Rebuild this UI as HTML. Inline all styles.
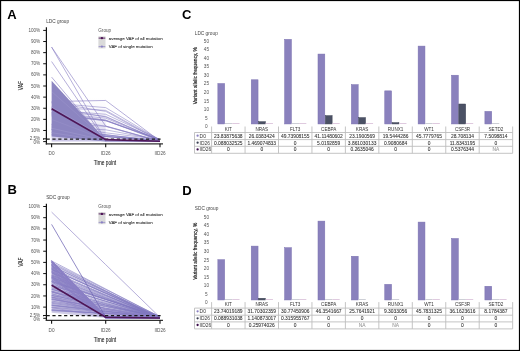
<!DOCTYPE html><html><head><meta charset="utf-8"><style>html,body{margin:0;padding:0;background:#fff;}svg{display:block;will-change:transform;}</style></head><body>
<svg width="520" height="351" viewBox="0 0 520 351" font-family='"Liberation Sans", sans-serif'>
<defs><linearGradient id="gA" x1="0" y1="0" x2="0" y2="1"><stop offset="0" stop-color="#a79fd6" stop-opacity="0"/><stop offset="0.5" stop-color="#a79fd6" stop-opacity="0.1"/><stop offset="1" stop-color="#a79fd6" stop-opacity="0.6"/></linearGradient></defs>
<rect width="520" height="351" fill="#fff"/>
<text x="7.3" y="18.8" font-size="13" font-weight="bold" fill="#000">A</text>
<text x="7.6" y="194.3" font-size="13" font-weight="bold" fill="#000">B</text>
<text x="182" y="18.9" font-size="13" font-weight="bold" fill="#000">C</text>
<text x="182.3" y="194.8" font-size="13" font-weight="bold" fill="#000">D</text>
<polygon points="51.60,97.12 105.70,97.12 105.70,141.60 51.60,141.60" fill="url(#gA)"/>
<polyline fill="none" points="51.6,127.02 105.7,129.81 160.0,140.15" stroke="#8077bf" stroke-width="0.6" stroke-opacity="0.85"/>
<polyline fill="none" points="51.6,129.18 105.7,136.25 160.0,140.79" stroke="#8077bf" stroke-width="0.6" stroke-opacity="0.85"/>
<polyline fill="none" points="51.6,129.74 105.7,136.49 160.0,141.52" stroke="#8077bf" stroke-width="0.6" stroke-opacity="0.85"/>
<polyline fill="none" points="51.6,124.22 105.7,126.11 160.0,141.40" stroke="#8077bf" stroke-width="0.6" stroke-opacity="0.85"/>
<polyline fill="none" points="51.6,116.12 105.7,126.43 160.0,141.32" stroke="#8077bf" stroke-width="0.6" stroke-opacity="0.85"/>
<polyline fill="none" points="51.6,124.70 105.7,132.79 160.0,139.49" stroke="#8077bf" stroke-width="0.6" stroke-opacity="0.85"/>
<polyline fill="none" points="51.6,115.15 105.7,120.67 160.0,139.43" stroke="#8077bf" stroke-width="0.6" stroke-opacity="0.85"/>
<polyline fill="none" points="51.6,126.01 105.7,136.67 160.0,140.96" stroke="#8077bf" stroke-width="0.6" stroke-opacity="0.85"/>
<polyline fill="none" points="51.6,132.36 105.7,134.79 160.0,140.91" stroke="#8077bf" stroke-width="0.6" stroke-opacity="0.85"/>
<polyline fill="none" points="51.6,107.26 105.7,110.38 160.0,140.31" stroke="#8077bf" stroke-width="0.6" stroke-opacity="0.85"/>
<polyline fill="none" points="51.6,112.89 105.7,118.15 160.0,140.38" stroke="#8077bf" stroke-width="0.6" stroke-opacity="0.85"/>
<polyline fill="none" points="51.6,134.64 105.7,136.41 160.0,141.14" stroke="#8077bf" stroke-width="0.6" stroke-opacity="0.85"/>
<polyline fill="none" points="51.6,110.53 105.7,116.40 160.0,140.90" stroke="#8077bf" stroke-width="0.6" stroke-opacity="0.85"/>
<polyline fill="none" points="51.6,114.18 105.7,120.33 160.0,140.93" stroke="#8077bf" stroke-width="0.6" stroke-opacity="0.85"/>
<polyline fill="none" points="51.6,102.49 105.7,111.37 160.0,141.06" stroke="#8077bf" stroke-width="0.6" stroke-opacity="0.85"/>
<polyline fill="none" points="51.6,113.82 105.7,120.78 160.0,139.65" stroke="#8077bf" stroke-width="0.6" stroke-opacity="0.85"/>
<polyline fill="none" points="51.6,109.96 105.7,114.27 160.0,139.42" stroke="#8077bf" stroke-width="0.6" stroke-opacity="0.85"/>
<polyline fill="none" points="51.6,129.60 105.7,135.36 160.0,139.92" stroke="#8077bf" stroke-width="0.6" stroke-opacity="0.85"/>
<polyline fill="none" points="51.6,128.06 105.7,134.61 160.0,141.51" stroke="#8077bf" stroke-width="0.6" stroke-opacity="0.85"/>
<polyline fill="none" points="51.6,107.30 105.7,116.92 160.0,140.33" stroke="#8077bf" stroke-width="0.6" stroke-opacity="0.85"/>
<polyline fill="none" points="51.6,103.01 105.7,107.61 160.0,140.05" stroke="#8077bf" stroke-width="0.6" stroke-opacity="0.85"/>
<polyline fill="none" points="51.6,112.42 105.7,119.98 160.0,140.59" stroke="#8077bf" stroke-width="0.6" stroke-opacity="0.85"/>
<polyline fill="none" points="51.6,101.57 105.7,100.46 160.0,141.04" stroke="#8a80c4" stroke-width="0.7" stroke-opacity="0.9"/>
<polygon points="51.60,80.77 51.60,136.60 105.70,141.60 105.70,139.93" fill="#8c85c1" fill-opacity="1.0"/>
<polyline fill="none" points="51.6,107.13 105.7,138.26 160.0,141.04" stroke="#c4bde6" stroke-width="0.5" stroke-opacity="0.5"/>
<polyline fill="none" points="51.6,128.26 105.7,140.49 160.0,141.04" stroke="#c4bde6" stroke-width="0.5" stroke-opacity="0.4"/>
<polyline fill="none" points="51.6,132.70 105.7,141.04 160.0,141.04" stroke="#c4bde6" stroke-width="0.5" stroke-opacity="0.35"/>
<polyline fill="none" points="51.6,91.56 105.7,139.38 160.0,141.04" stroke="#c4bde6" stroke-width="0.4" stroke-opacity="0.35"/>
<polyline fill="none" points="51.6,119.36 105.7,139.93 160.0,141.04" stroke="#c4bde6" stroke-width="0.4" stroke-opacity="0.3"/>
<polyline fill="none" points="51.6,47.08 105.7,126.03 160.0,141.04" stroke="#8a80c4" stroke-width="0.7" stroke-opacity="0.9"/>
<polyline fill="none" points="51.6,47.08 105.7,140.49 160.0,141.04" stroke="#8a80c4" stroke-width="0.7" stroke-opacity="0.9"/>
<polyline fill="none" points="51.6,61.54 105.7,140.82 160.0,141.27" stroke="#8a80c4" stroke-width="0.7" stroke-opacity="0.9"/>
<polyline fill="none" points="51.6,77.10 105.7,141.60 160.0,141.60" stroke="#8a80c4" stroke-width="0.7" stroke-opacity="0.9"/>
<line x1="43" y1="139.02" x2="160.6" y2="139.02" stroke="#1a1a1a" stroke-width="1.25" stroke-dasharray="3.2 2.65" stroke-dashoffset="2.3"/>
<polyline points="51.6,108.80 105.7,139.60 160.0,141.27" fill="none" stroke="#4e1657" stroke-width="1.6"/>
<line x1="46.4" y1="27.2" x2="46.4" y2="144.4" stroke="#111" stroke-width="1.2"/>
<line x1="45.8" y1="143.8" x2="163" y2="143.8" stroke="#333" stroke-width="1.3"/>
<line x1="43.2" y1="141.60" x2="46.4" y2="141.60" stroke="#111" stroke-width="1"/>
<text x="40.2" y="144.10" text-anchor="end" font-size="4.6" fill="#555">0%</text>
<line x1="43.2" y1="138.82" x2="46.4" y2="138.82" stroke="#111" stroke-width="1"/>
<text x="40.2" y="139.82" text-anchor="end" font-size="4.6" fill="#555">2.5%</text>
<line x1="43.2" y1="130.48" x2="46.4" y2="130.48" stroke="#111" stroke-width="1"/>
<text x="40.2" y="132.08" text-anchor="end" font-size="4.6" fill="#555">10%</text>
<line x1="43.2" y1="119.36" x2="46.4" y2="119.36" stroke="#111" stroke-width="1"/>
<text x="40.2" y="120.96" text-anchor="end" font-size="4.6" fill="#555">20%</text>
<line x1="43.2" y1="108.24" x2="46.4" y2="108.24" stroke="#111" stroke-width="1"/>
<text x="40.2" y="109.84" text-anchor="end" font-size="4.6" fill="#555">30%</text>
<line x1="43.2" y1="97.12" x2="46.4" y2="97.12" stroke="#111" stroke-width="1"/>
<text x="40.2" y="98.72" text-anchor="end" font-size="4.6" fill="#555">40%</text>
<line x1="43.2" y1="86.00" x2="46.4" y2="86.00" stroke="#111" stroke-width="1"/>
<text x="40.2" y="87.60" text-anchor="end" font-size="4.6" fill="#555">50%</text>
<line x1="43.2" y1="74.88" x2="46.4" y2="74.88" stroke="#111" stroke-width="1"/>
<text x="40.2" y="76.48" text-anchor="end" font-size="4.6" fill="#555">60%</text>
<line x1="43.2" y1="63.76" x2="46.4" y2="63.76" stroke="#111" stroke-width="1"/>
<text x="40.2" y="65.36" text-anchor="end" font-size="4.6" fill="#555">70%</text>
<line x1="43.2" y1="52.64" x2="46.4" y2="52.64" stroke="#111" stroke-width="1"/>
<text x="40.2" y="54.24" text-anchor="end" font-size="4.6" fill="#555">80%</text>
<line x1="43.2" y1="41.52" x2="46.4" y2="41.52" stroke="#111" stroke-width="1"/>
<text x="40.2" y="43.12" text-anchor="end" font-size="4.6" fill="#555">90%</text>
<line x1="43.2" y1="30.40" x2="46.4" y2="30.40" stroke="#111" stroke-width="1"/>
<text x="40.2" y="32.00" text-anchor="end" font-size="4.6" fill="#555">100%</text>
<line x1="51.6" y1="143.8" x2="51.6" y2="147.2" stroke="#111" stroke-width="1.1"/>
<text x="51.6" y="155.0" text-anchor="middle" font-size="4.7" fill="#555">D0</text>
<line x1="105.7" y1="143.8" x2="105.7" y2="147.2" stroke="#111" stroke-width="1.1"/>
<text x="105.7" y="155.0" text-anchor="middle" font-size="4.7" fill="#555">ID26</text>
<line x1="160.0" y1="143.8" x2="160.0" y2="147.2" stroke="#111" stroke-width="1.1"/>
<text x="160.0" y="155.0" text-anchor="middle" font-size="4.7" fill="#555">IID26</text>
<text transform="translate(105,165.4) scale(0.69,1)" text-anchor="middle" font-size="7" fill="#1a1a1a" stroke="#1a1a1a" stroke-width="0.08">Time point</text>
<text transform="translate(22.6,85.6) rotate(-90) scale(0.66,1)" text-anchor="middle" font-size="7.4" fill="#1a1a1a" stroke="#1a1a1a" stroke-width="0.08">VAF</text>
<text x="46.2" y="22.7" font-size="4.75" fill="#444">LDC group</text>
<text x="98.3" y="31.7" font-size="4.6" fill="#555">Group</text>
<rect x="98.4" y="36.3" width="7.1" height="12.1" fill="#dadada"/>
<line x1="98.6" y1="38.1" x2="105.3" y2="38.1" stroke="#4e1657" stroke-width="1.1" stroke-opacity="0.8"/>
<circle cx="101.9" cy="38.1" r="1.2" fill="#4e1657"/>
<line x1="98.6" y1="46.6" x2="105.3" y2="46.6" stroke="#8a80c4" stroke-width="0.9" stroke-opacity="0.8"/>
<circle cx="101.9" cy="46.6" r="1.1" fill="#8a80c4"/>
<text x="108.8" y="39.9" font-size="4.4" fill="#333" stroke="#333" stroke-width="0.1">average VAF of all mutation</text>
<text x="108.8" y="48.3" font-size="4.4" fill="#333" stroke="#333" stroke-width="0.1">VAF of single mutation</text>
<polygon points="51.60,278.05 51.60,312.71 105.70,317.96" fill="#8e85c3" fill-opacity="0.42"/>
<polygon points="51.60,260.16 51.60,278.05 105.70,318.30 105.70,316.62" fill="#8e85c3" fill-opacity="0.8"/>
<polyline fill="none" points="51.6,310.65 105.7,313.68 160.0,316.72" stroke="#8077bf" stroke-width="0.65" stroke-opacity="0.9"/>
<polyline fill="none" points="51.6,310.09 105.7,313.63 160.0,317.19" stroke="#8077bf" stroke-width="0.65" stroke-opacity="0.9"/>
<polyline fill="none" points="51.6,309.64 105.7,313.37 160.0,317.12" stroke="#8077bf" stroke-width="0.65" stroke-opacity="0.9"/>
<polyline fill="none" points="51.6,307.17 105.7,311.89 160.0,316.63" stroke="#8077bf" stroke-width="0.65" stroke-opacity="0.9"/>
<polyline fill="none" points="51.6,305.61 105.7,311.71 160.0,317.82" stroke="#8077bf" stroke-width="0.65" stroke-opacity="0.9"/>
<polyline fill="none" points="51.6,305.25 105.7,311.20 160.0,317.18" stroke="#8077bf" stroke-width="0.65" stroke-opacity="0.9"/>
<polyline fill="none" points="51.6,304.75 105.7,311.13 160.0,317.53" stroke="#8077bf" stroke-width="0.65" stroke-opacity="0.9"/>
<polyline fill="none" points="51.6,303.30 105.7,310.69 160.0,318.10" stroke="#8077bf" stroke-width="0.65" stroke-opacity="0.9"/>
<polyline fill="none" points="51.6,302.35 105.7,309.67 160.0,317.01" stroke="#8077bf" stroke-width="0.65" stroke-opacity="0.9"/>
<polyline fill="none" points="51.6,301.07 105.7,309.46 160.0,317.88" stroke="#8077bf" stroke-width="0.65" stroke-opacity="0.9"/>
<polyline fill="none" points="51.6,299.47 105.7,308.14 160.0,316.84" stroke="#8077bf" stroke-width="0.65" stroke-opacity="0.9"/>
<polyline fill="none" points="51.6,298.91 105.7,308.21 160.0,317.55" stroke="#8077bf" stroke-width="0.65" stroke-opacity="0.9"/>
<polyline fill="none" points="51.6,296.97 105.7,306.88 160.0,316.82" stroke="#8077bf" stroke-width="0.65" stroke-opacity="0.9"/>
<polyline fill="none" points="51.6,295.40 105.7,306.11 160.0,316.85" stroke="#8077bf" stroke-width="0.65" stroke-opacity="0.9"/>
<polyline fill="none" points="51.6,295.26 105.7,306.41 160.0,317.60" stroke="#8077bf" stroke-width="0.65" stroke-opacity="0.9"/>
<polyline fill="none" points="51.6,294.04 105.7,305.41 160.0,316.82" stroke="#8077bf" stroke-width="0.65" stroke-opacity="0.9"/>
<polyline fill="none" points="51.6,291.94 105.7,304.97 160.0,318.05" stroke="#8077bf" stroke-width="0.65" stroke-opacity="0.9"/>
<polyline fill="none" points="51.6,292.20 105.7,305.03 160.0,317.91" stroke="#8077bf" stroke-width="0.65" stroke-opacity="0.9"/>
<polyline fill="none" points="51.6,291.04 105.7,304.24 160.0,317.49" stroke="#8077bf" stroke-width="0.65" stroke-opacity="0.9"/>
<polyline fill="none" points="51.6,289.38 105.7,303.59 160.0,317.86" stroke="#8077bf" stroke-width="0.65" stroke-opacity="0.9"/>
<polyline fill="none" points="51.6,289.31 105.7,303.43 160.0,317.60" stroke="#8077bf" stroke-width="0.65" stroke-opacity="0.9"/>
<polyline fill="none" points="51.6,287.65 105.7,302.47 160.0,317.35" stroke="#8077bf" stroke-width="0.65" stroke-opacity="0.9"/>
<polyline fill="none" points="51.6,285.64 105.7,301.36 160.0,317.14" stroke="#8077bf" stroke-width="0.65" stroke-opacity="0.9"/>
<polyline fill="none" points="51.6,285.33 105.7,301.27 160.0,317.26" stroke="#8077bf" stroke-width="0.65" stroke-opacity="0.9"/>
<polyline fill="none" points="51.6,284.03 105.7,301.09 160.0,318.21" stroke="#8077bf" stroke-width="0.65" stroke-opacity="0.9"/>
<polyline fill="none" points="51.6,282.64 105.7,299.79 160.0,316.99" stroke="#8077bf" stroke-width="0.65" stroke-opacity="0.9"/>
<polyline fill="none" points="51.6,281.66 105.7,299.28 160.0,316.96" stroke="#8077bf" stroke-width="0.65" stroke-opacity="0.9"/>
<polyline fill="none" points="51.6,281.43 105.7,299.50 160.0,317.63" stroke="#8077bf" stroke-width="0.65" stroke-opacity="0.9"/>
<polyline fill="none" points="51.6,280.88 105.7,299.02 160.0,317.24" stroke="#8077bf" stroke-width="0.65" stroke-opacity="0.9"/>
<polyline fill="none" points="51.6,279.93 105.7,299.02 160.0,318.19" stroke="#8077bf" stroke-width="0.65" stroke-opacity="0.9"/>
<polyline fill="none" points="51.6,278.68 105.7,298.32 160.0,318.03" stroke="#8077bf" stroke-width="0.65" stroke-opacity="0.9"/>
<polyline fill="none" points="51.6,277.46 105.7,297.80 160.0,318.21" stroke="#8077bf" stroke-width="0.65" stroke-opacity="0.9"/>
<polyline fill="none" points="51.6,277.01 105.7,297.49 160.0,318.05" stroke="#8077bf" stroke-width="0.65" stroke-opacity="0.9"/>
<polyline fill="none" points="51.6,275.84 105.7,296.73 160.0,317.69" stroke="#8077bf" stroke-width="0.65" stroke-opacity="0.9"/>
<polyline fill="none" points="51.6,274.96 105.7,295.86 160.0,316.83" stroke="#8077bf" stroke-width="0.65" stroke-opacity="0.9"/>
<polyline fill="none" points="51.6,273.03 105.7,295.50 160.0,318.05" stroke="#8077bf" stroke-width="0.65" stroke-opacity="0.9"/>
<polyline fill="none" points="51.6,272.61 105.7,295.12 160.0,317.72" stroke="#8077bf" stroke-width="0.65" stroke-opacity="0.9"/>
<polyline fill="none" points="51.6,271.45 105.7,294.73 160.0,318.09" stroke="#8077bf" stroke-width="0.65" stroke-opacity="0.9"/>
<polyline fill="none" points="51.6,269.70 105.7,293.12 160.0,316.63" stroke="#8077bf" stroke-width="0.65" stroke-opacity="0.9"/>
<polyline fill="none" points="51.6,269.31 105.7,293.36 160.0,317.49" stroke="#8077bf" stroke-width="0.65" stroke-opacity="0.9"/>
<polyline fill="none" points="51.6,268.93 105.7,293.48 160.0,318.13" stroke="#8077bf" stroke-width="0.65" stroke-opacity="0.9"/>
<polyline fill="none" points="51.6,267.55 105.7,292.66 160.0,317.86" stroke="#8077bf" stroke-width="0.65" stroke-opacity="0.9"/>
<polyline fill="none" points="51.6,265.81 105.7,291.87 160.0,318.03" stroke="#8077bf" stroke-width="0.65" stroke-opacity="0.9"/>
<polyline fill="none" points="51.6,266.09 105.7,291.35 160.0,316.71" stroke="#8077bf" stroke-width="0.65" stroke-opacity="0.9"/>
<polyline fill="none" points="51.6,264.33 105.7,291.14 160.0,318.05" stroke="#8077bf" stroke-width="0.65" stroke-opacity="0.9"/>
<polyline fill="none" points="51.6,263.34 105.7,290.75 160.0,318.25" stroke="#8077bf" stroke-width="0.65" stroke-opacity="0.9"/>
<polyline fill="none" points="51.6,262.40 105.7,289.48 160.0,316.66" stroke="#8077bf" stroke-width="0.65" stroke-opacity="0.9"/>
<polyline fill="none" points="51.6,260.91 105.7,288.97 160.0,317.13" stroke="#8077bf" stroke-width="0.65" stroke-opacity="0.9"/>
<polyline fill="none" points="51.6,278.34 105.7,317.48 160.0,318.11" stroke="#8a80c4" stroke-width="0.8" stroke-opacity="0.8"/>
<polyline fill="none" points="51.6,265.77 105.7,317.11 160.0,317.43" stroke="#8a80c4" stroke-width="0.8" stroke-opacity="0.8"/>
<polyline fill="none" points="51.6,276.65 105.7,317.80 160.0,317.39" stroke="#8a80c4" stroke-width="0.8" stroke-opacity="0.8"/>
<polyline fill="none" points="51.6,260.53 105.7,316.39 160.0,317.40" stroke="#8a80c4" stroke-width="0.8" stroke-opacity="0.8"/>
<polyline fill="none" points="51.6,264.63 105.7,316.65 160.0,318.05" stroke="#8a80c4" stroke-width="0.8" stroke-opacity="0.8"/>
<polyline fill="none" points="51.6,272.03 105.7,317.50 160.0,318.27" stroke="#8a80c4" stroke-width="0.8" stroke-opacity="0.8"/>
<polyline fill="none" points="51.6,284.07 105.7,317.68 160.0,318.01" stroke="#8a80c4" stroke-width="0.8" stroke-opacity="0.8"/>
<polyline fill="none" points="51.6,267.73 105.7,316.16 160.0,317.80" stroke="#8a80c4" stroke-width="0.8" stroke-opacity="0.8"/>
<polyline fill="none" points="51.6,261.71 105.7,316.09 160.0,317.23" stroke="#8a80c4" stroke-width="0.8" stroke-opacity="0.8"/>
<polyline fill="none" points="51.6,275.79 105.7,317.81 160.0,318.05" stroke="#8a80c4" stroke-width="0.8" stroke-opacity="0.8"/>
<polyline fill="none" points="51.6,279.92 105.7,317.84 160.0,317.60" stroke="#8a80c4" stroke-width="0.8" stroke-opacity="0.8"/>
<polyline fill="none" points="51.6,262.62 105.7,316.42 160.0,317.76" stroke="#8a80c4" stroke-width="0.8" stroke-opacity="0.8"/>
<polyline fill="none" points="51.6,268.70 105.7,316.51 160.0,318.21" stroke="#8a80c4" stroke-width="0.8" stroke-opacity="0.8"/>
<polyline fill="none" points="51.6,268.51 105.7,316.27 160.0,317.43" stroke="#8a80c4" stroke-width="0.8" stroke-opacity="0.8"/>
<polyline fill="none" points="51.6,266.31 105.7,317.23 160.0,318.10" stroke="#8a80c4" stroke-width="0.8" stroke-opacity="0.8"/>
<polyline fill="none" points="51.6,265.35 105.7,317.56 160.0,317.40" stroke="#8a80c4" stroke-width="0.8" stroke-opacity="0.8"/>
<polyline fill="none" points="51.6,260.86 105.7,317.41 160.0,317.85" stroke="#8a80c4" stroke-width="0.8" stroke-opacity="0.8"/>
<polyline fill="none" points="51.6,261.47 105.7,316.68 160.0,318.11" stroke="#8a80c4" stroke-width="0.8" stroke-opacity="0.8"/>
<polyline fill="none" points="51.6,281.64 105.7,317.96 160.0,317.29" stroke="#8a80c4" stroke-width="0.8" stroke-opacity="0.8"/>
<polyline fill="none" points="51.6,264.92 105.7,317.97 160.0,317.38" stroke="#8a80c4" stroke-width="0.8" stroke-opacity="0.8"/>
<polyline fill="none" points="51.6,260.65 105.7,316.83 160.0,317.91" stroke="#8a80c4" stroke-width="0.8" stroke-opacity="0.8"/>
<polyline fill="none" points="51.6,271.27 105.7,318.01 160.0,318.28" stroke="#8a80c4" stroke-width="0.8" stroke-opacity="0.8"/>
<polyline fill="none" points="51.6,260.88 105.7,316.85 160.0,317.71" stroke="#8a80c4" stroke-width="0.8" stroke-opacity="0.8"/>
<polyline fill="none" points="51.6,261.80 105.7,317.33 160.0,317.33" stroke="#8a80c4" stroke-width="0.8" stroke-opacity="0.8"/>
<polyline fill="none" points="51.6,264.44 105.7,317.83 160.0,318.02" stroke="#8a80c4" stroke-width="0.8" stroke-opacity="0.8"/>
<polyline fill="none" points="51.6,277.55 105.7,317.76 160.0,317.64" stroke="#8a80c4" stroke-width="0.8" stroke-opacity="0.8"/>
<polyline fill="none" points="51.6,278.38 105.7,317.36 160.0,318.15" stroke="#8a80c4" stroke-width="0.8" stroke-opacity="0.8"/>
<polyline fill="none" points="51.6,262.38 105.7,317.51 160.0,317.79" stroke="#8a80c4" stroke-width="0.8" stroke-opacity="0.8"/>
<polyline fill="none" points="51.6,270.41 105.7,316.28 160.0,317.83" stroke="#8a80c4" stroke-width="0.8" stroke-opacity="0.8"/>
<polyline fill="none" points="51.6,262.19 105.7,317.18 160.0,317.71" stroke="#8a80c4" stroke-width="0.8" stroke-opacity="0.8"/>
<polyline fill="none" points="51.6,298.08 105.7,317.01 160.0,317.81" stroke="#8a80c4" stroke-width="0.6" stroke-opacity="0.75"/>
<polyline fill="none" points="51.6,307.59 105.7,317.15 160.0,317.41" stroke="#8a80c4" stroke-width="0.6" stroke-opacity="0.75"/>
<polyline fill="none" points="51.6,307.89 105.7,312.95 160.0,317.49" stroke="#8a80c4" stroke-width="0.6" stroke-opacity="0.75"/>
<polyline fill="none" points="51.6,297.16 105.7,314.27 160.0,317.72" stroke="#8a80c4" stroke-width="0.6" stroke-opacity="0.75"/>
<polyline fill="none" points="51.6,297.19 105.7,310.17 160.0,318.18" stroke="#8a80c4" stroke-width="0.6" stroke-opacity="0.75"/>
<polyline fill="none" points="51.6,297.05 105.7,314.96 160.0,317.99" stroke="#8a80c4" stroke-width="0.6" stroke-opacity="0.75"/>
<polyline fill="none" points="51.6,291.13 105.7,312.64 160.0,317.67" stroke="#8a80c4" stroke-width="0.6" stroke-opacity="0.75"/>
<polyline fill="none" points="51.6,291.47 105.7,309.02 160.0,317.80" stroke="#8a80c4" stroke-width="0.6" stroke-opacity="0.75"/>
<polyline fill="none" points="51.6,295.59 105.7,312.66 160.0,317.73" stroke="#8a80c4" stroke-width="0.6" stroke-opacity="0.75"/>
<polyline fill="none" points="51.6,293.35 105.7,313.14 160.0,317.70" stroke="#8a80c4" stroke-width="0.6" stroke-opacity="0.75"/>
<polyline fill="none" points="51.6,299.35 105.7,308.76 160.0,317.52" stroke="#8a80c4" stroke-width="0.6" stroke-opacity="0.75"/>
<polyline fill="none" points="51.6,288.21 105.7,308.76 160.0,318.01" stroke="#8a80c4" stroke-width="0.6" stroke-opacity="0.75"/>
<polyline fill="none" points="51.6,212.09 105.7,264.65 160.0,317.41" stroke="#8a80c4" stroke-width="0.7" stroke-opacity="0.9"/>
<polyline fill="none" points="51.6,224.39 105.7,317.18 160.0,317.74" stroke="#6f66b5" stroke-width="0.8" stroke-opacity="0.95"/>
<line x1="43" y1="315.70" x2="160.6" y2="315.70" stroke="#1a1a1a" stroke-width="1.25" stroke-dasharray="3.2 2.65" stroke-dashoffset="2.3"/>
<polyline points="51.6,285.21 105.7,317.29 160.0,317.96" fill="none" stroke="#4e1657" stroke-width="1.6"/>
<line x1="46.4" y1="203.7" x2="46.4" y2="320.9" stroke="#111" stroke-width="1.2"/>
<line x1="45.8" y1="320.3" x2="163" y2="320.3" stroke="#333" stroke-width="1.3"/>
<line x1="43.2" y1="318.30" x2="46.4" y2="318.30" stroke="#111" stroke-width="1"/>
<text x="40.2" y="320.80" text-anchor="end" font-size="4.6" fill="#555">0%</text>
<line x1="43.2" y1="315.50" x2="46.4" y2="315.50" stroke="#111" stroke-width="1"/>
<text x="40.2" y="316.50" text-anchor="end" font-size="4.6" fill="#555">2.5%</text>
<line x1="43.2" y1="307.12" x2="46.4" y2="307.12" stroke="#111" stroke-width="1"/>
<text x="40.2" y="308.72" text-anchor="end" font-size="4.6" fill="#555">10%</text>
<line x1="43.2" y1="295.94" x2="46.4" y2="295.94" stroke="#111" stroke-width="1"/>
<text x="40.2" y="297.54" text-anchor="end" font-size="4.6" fill="#555">20%</text>
<line x1="43.2" y1="284.76" x2="46.4" y2="284.76" stroke="#111" stroke-width="1"/>
<text x="40.2" y="286.36" text-anchor="end" font-size="4.6" fill="#555">30%</text>
<line x1="43.2" y1="273.58" x2="46.4" y2="273.58" stroke="#111" stroke-width="1"/>
<text x="40.2" y="275.18" text-anchor="end" font-size="4.6" fill="#555">40%</text>
<line x1="43.2" y1="262.40" x2="46.4" y2="262.40" stroke="#111" stroke-width="1"/>
<text x="40.2" y="264.00" text-anchor="end" font-size="4.6" fill="#555">50%</text>
<line x1="43.2" y1="251.22" x2="46.4" y2="251.22" stroke="#111" stroke-width="1"/>
<text x="40.2" y="252.82" text-anchor="end" font-size="4.6" fill="#555">60%</text>
<line x1="43.2" y1="240.04" x2="46.4" y2="240.04" stroke="#111" stroke-width="1"/>
<text x="40.2" y="241.64" text-anchor="end" font-size="4.6" fill="#555">70%</text>
<line x1="43.2" y1="228.86" x2="46.4" y2="228.86" stroke="#111" stroke-width="1"/>
<text x="40.2" y="230.46" text-anchor="end" font-size="4.6" fill="#555">80%</text>
<line x1="43.2" y1="217.68" x2="46.4" y2="217.68" stroke="#111" stroke-width="1"/>
<text x="40.2" y="219.28" text-anchor="end" font-size="4.6" fill="#555">90%</text>
<line x1="43.2" y1="206.50" x2="46.4" y2="206.50" stroke="#111" stroke-width="1"/>
<text x="40.2" y="208.10" text-anchor="end" font-size="4.6" fill="#555">100%</text>
<line x1="51.6" y1="320.3" x2="51.6" y2="323.7" stroke="#111" stroke-width="1.1"/>
<text x="51.6" y="331.5" text-anchor="middle" font-size="4.7" fill="#555">D0</text>
<line x1="105.7" y1="320.3" x2="105.7" y2="323.7" stroke="#111" stroke-width="1.1"/>
<text x="105.7" y="331.5" text-anchor="middle" font-size="4.7" fill="#555">ID26</text>
<line x1="160.0" y1="320.3" x2="160.0" y2="323.7" stroke="#111" stroke-width="1.1"/>
<text x="160.0" y="331.5" text-anchor="middle" font-size="4.7" fill="#555">IID26</text>
<text transform="translate(105,341.9) scale(0.69,1)" text-anchor="middle" font-size="7" fill="#1a1a1a" stroke="#1a1a1a" stroke-width="0.08">Time point</text>
<text transform="translate(22.6,262.1) rotate(-90) scale(0.66,1)" text-anchor="middle" font-size="7.4" fill="#1a1a1a" stroke="#1a1a1a" stroke-width="0.08">VAF</text>
<text x="46.2" y="199.2" font-size="4.75" fill="#444">SDC group</text>
<text x="98.3" y="207.5" font-size="4.6" fill="#555">Group</text>
<rect x="98.4" y="212.10000000000002" width="7.1" height="12.1" fill="#dadada"/>
<line x1="98.6" y1="213.9" x2="105.3" y2="213.9" stroke="#4e1657" stroke-width="1.1" stroke-opacity="0.8"/>
<circle cx="101.9" cy="213.9" r="1.2" fill="#4e1657"/>
<line x1="98.6" y1="222.4" x2="105.3" y2="222.4" stroke="#8a80c4" stroke-width="0.9" stroke-opacity="0.8"/>
<circle cx="101.9" cy="222.4" r="1.1" fill="#8a80c4"/>
<text x="108.8" y="215.70000000000002" font-size="4.4" fill="#333" stroke="#333" stroke-width="0.1">average VAF of all mutation</text>
<text x="108.8" y="224.10000000000002" font-size="4.4" fill="#333" stroke="#333" stroke-width="0.1">VAF of single mutation</text>
<text x="206.4" y="42.70" text-anchor="middle" font-size="4.7" fill="#555">50</text>
<text x="206.4" y="51.25" text-anchor="middle" font-size="4.7" fill="#555">45</text>
<text x="206.4" y="59.80" text-anchor="middle" font-size="4.7" fill="#555">40</text>
<text x="206.4" y="68.35" text-anchor="middle" font-size="4.7" fill="#555">35</text>
<text x="206.4" y="76.90" text-anchor="middle" font-size="4.7" fill="#555">30</text>
<text x="206.4" y="85.45" text-anchor="middle" font-size="4.7" fill="#555">25</text>
<text x="206.4" y="94.00" text-anchor="middle" font-size="4.7" fill="#555">20</text>
<text x="206.4" y="102.55" text-anchor="middle" font-size="4.7" fill="#555">15</text>
<text x="206.4" y="111.10" text-anchor="middle" font-size="4.7" fill="#555">10</text>
<text x="206.4" y="119.65" text-anchor="middle" font-size="4.7" fill="#555">5</text>
<text x="206.4" y="128.20" text-anchor="middle" font-size="4.7" fill="#555">0</text>
<text transform="translate(196.6,75.7) rotate(-90) scale(0.775,1)" text-anchor="middle" font-size="6.2" fill="#222" stroke="#222" stroke-width="0.2">Variant allelic frequency, %</text>
<text x="194.8" y="34.6" font-size="4.75" fill="#444">LDC group</text>
<rect x="217.85" y="83.53" width="6.82" height="40.42" fill="#8a81bd" stroke="#7a71b0" stroke-width="0.5"/>
<rect x="224.92" y="123.05" width="7.32" height="0.9" fill="#c8cad2"/>
<rect x="232.24" y="123.05" width="7.32" height="0.9" fill="#dcc4dc"/>
<rect x="251.23" y="79.78" width="6.82" height="44.17" fill="#8a81bd" stroke="#7a71b0" stroke-width="0.5"/>
<rect x="258.55" y="121.69" width="6.82" height="2.26" fill="#4b5165" stroke="#3b4052" stroke-width="0.5"/>
<rect x="265.62" y="123.05" width="7.32" height="0.9" fill="#dcc4dc"/>
<rect x="284.61" y="39.35" width="6.82" height="84.60" fill="#8a81bd" stroke="#7a71b0" stroke-width="0.5"/>
<rect x="291.68" y="123.05" width="7.32" height="0.9" fill="#c8cad2"/>
<rect x="299.00" y="123.05" width="7.32" height="0.9" fill="#dcc4dc"/>
<rect x="317.99" y="54.06" width="6.82" height="69.89" fill="#8a81bd" stroke="#7a71b0" stroke-width="0.5"/>
<rect x="325.31" y="115.64" width="6.82" height="8.31" fill="#4b5165" stroke="#3b4052" stroke-width="0.5"/>
<rect x="332.38" y="123.05" width="7.32" height="0.9" fill="#dcc4dc"/>
<rect x="351.37" y="84.64" width="6.82" height="39.31" fill="#8a81bd" stroke="#7a71b0" stroke-width="0.5"/>
<rect x="358.69" y="117.61" width="6.82" height="6.34" fill="#4b5165" stroke="#3b4052" stroke-width="0.5"/>
<rect x="365.76" y="123.05" width="7.32" height="0.9" fill="#dcc4dc"/>
<rect x="384.75" y="90.86" width="6.82" height="33.09" fill="#8a81bd" stroke="#7a71b0" stroke-width="0.5"/>
<rect x="392.07" y="122.65" width="6.82" height="1.30" fill="#4b5165" stroke="#3b4052" stroke-width="0.5"/>
<rect x="399.14" y="123.05" width="7.32" height="0.9" fill="#dcc4dc"/>
<rect x="418.13" y="46.10" width="6.82" height="77.85" fill="#8a81bd" stroke="#7a71b0" stroke-width="0.5"/>
<rect x="425.20" y="123.05" width="7.32" height="0.9" fill="#c8cad2"/>
<rect x="432.52" y="123.05" width="7.32" height="0.9" fill="#dcc4dc"/>
<rect x="451.51" y="75.22" width="6.82" height="48.73" fill="#8a81bd" stroke="#7a71b0" stroke-width="0.5"/>
<rect x="458.83" y="104.01" width="6.82" height="19.94" fill="#4b5165" stroke="#3b4052" stroke-width="0.5"/>
<rect x="465.90" y="123.05" width="7.32" height="0.9" fill="#dcc4dc"/>
<rect x="484.89" y="111.39" width="6.82" height="12.56" fill="#8a81bd" stroke="#7a71b0" stroke-width="0.5"/>
<rect x="491.96" y="123.05" width="7.32" height="0.9" fill="#c8cad2"/>
<line x1="194.5" y1="132.5" x2="512.65" y2="132.5" stroke="#bdbdbd" stroke-width="0.9"/>
<line x1="194.5" y1="139.6" x2="512.65" y2="139.6" stroke="#bdbdbd" stroke-width="0.9"/>
<line x1="194.5" y1="146.3" x2="512.65" y2="146.3" stroke="#bdbdbd" stroke-width="0.9"/>
<line x1="194.5" y1="153.3" x2="512.65" y2="153.3" stroke="#bdbdbd" stroke-width="0.9"/>
<line x1="194.5" y1="132.5" x2="194.5" y2="153.3" stroke="#bdbdbd" stroke-width="0.9"/>
<line x1="211.60" y1="126.5" x2="211.60" y2="153.3" stroke="#bdbdbd" stroke-width="0.9"/>
<line x1="245.05" y1="126.5" x2="245.05" y2="153.3" stroke="#bdbdbd" stroke-width="0.9"/>
<line x1="278.50" y1="126.5" x2="278.50" y2="153.3" stroke="#bdbdbd" stroke-width="0.9"/>
<line x1="311.95" y1="126.5" x2="311.95" y2="153.3" stroke="#bdbdbd" stroke-width="0.9"/>
<line x1="345.40" y1="126.5" x2="345.40" y2="153.3" stroke="#bdbdbd" stroke-width="0.9"/>
<line x1="378.85" y1="126.5" x2="378.85" y2="153.3" stroke="#bdbdbd" stroke-width="0.9"/>
<line x1="412.30" y1="126.5" x2="412.30" y2="153.3" stroke="#bdbdbd" stroke-width="0.9"/>
<line x1="445.75" y1="126.5" x2="445.75" y2="153.3" stroke="#bdbdbd" stroke-width="0.9"/>
<line x1="479.20" y1="126.5" x2="479.20" y2="153.3" stroke="#bdbdbd" stroke-width="0.9"/>
<line x1="512.65" y1="126.5" x2="512.65" y2="153.3" stroke="#bdbdbd" stroke-width="0.9"/>
<text x="228.32" y="130.80" text-anchor="middle" font-size="4.6" fill="#333">KIT</text>
<text x="261.78" y="130.80" text-anchor="middle" font-size="4.6" fill="#333">NRAS</text>
<text x="295.23" y="130.80" text-anchor="middle" font-size="4.6" fill="#333">FLT3</text>
<text x="328.68" y="130.80" text-anchor="middle" font-size="4.6" fill="#333">CEBPA</text>
<text x="362.12" y="130.80" text-anchor="middle" font-size="4.6" fill="#333">KRAS</text>
<text x="395.58" y="130.80" text-anchor="middle" font-size="4.6" fill="#333">RUNX1</text>
<text x="429.03" y="130.80" text-anchor="middle" font-size="4.6" fill="#333">WT1</text>
<text x="462.48" y="130.80" text-anchor="middle" font-size="4.6" fill="#333">CSF3R</text>
<text x="495.93" y="130.80" text-anchor="middle" font-size="4.6" fill="#333">SETD2</text>
<circle cx="197.6" cy="135.70" r="1.15" fill="#8b80c0"/>
<text x="199.6" y="137.60" font-size="4.9" fill="#333">D0</text>
<text x="228.32" y="137.60" text-anchor="middle" font-size="4.9" fill="#333" stroke="#333" stroke-width="0.08">23.83875638</text>
<text x="261.78" y="137.60" text-anchor="middle" font-size="4.9" fill="#333" stroke="#333" stroke-width="0.08">26.0383424</text>
<text x="295.23" y="137.60" text-anchor="middle" font-size="4.9" fill="#333" stroke="#333" stroke-width="0.08">49.73908155</text>
<text x="328.68" y="137.60" text-anchor="middle" font-size="4.9" fill="#333" stroke="#333" stroke-width="0.08">41.11480602</text>
<text x="362.12" y="137.60" text-anchor="middle" font-size="4.9" fill="#333" stroke="#333" stroke-width="0.08">23.1900569</text>
<text x="395.58" y="137.60" text-anchor="middle" font-size="4.9" fill="#333" stroke="#333" stroke-width="0.08">19.5444286</text>
<text x="429.03" y="137.60" text-anchor="middle" font-size="4.9" fill="#333" stroke="#333" stroke-width="0.08">45.7779765</text>
<text x="462.48" y="137.60" text-anchor="middle" font-size="4.9" fill="#333" stroke="#333" stroke-width="0.08">28.708134</text>
<text x="495.93" y="137.60" text-anchor="middle" font-size="4.9" fill="#333" stroke="#333" stroke-width="0.08">7.5098814</text>
<circle cx="197.6" cy="142.70" r="1.15" fill="#3b4052"/>
<text x="199.6" y="144.60" font-size="4.9" fill="#333">ID26</text>
<text x="228.32" y="144.60" text-anchor="middle" font-size="4.9" fill="#333" stroke="#333" stroke-width="0.08">0.088032525</text>
<text x="261.78" y="144.60" text-anchor="middle" font-size="4.9" fill="#333" stroke="#333" stroke-width="0.08">1.469074833</text>
<text x="295.23" y="144.60" text-anchor="middle" font-size="4.9" fill="#333" stroke="#333" stroke-width="0.08">0</text>
<text x="328.68" y="144.60" text-anchor="middle" font-size="4.9" fill="#333" stroke="#333" stroke-width="0.08">5.0192859</text>
<text x="362.12" y="144.60" text-anchor="middle" font-size="4.9" fill="#333" stroke="#333" stroke-width="0.08">3.861030133</text>
<text x="395.58" y="144.60" text-anchor="middle" font-size="4.9" fill="#333" stroke="#333" stroke-width="0.08">0.9080684</text>
<text x="429.03" y="144.60" text-anchor="middle" font-size="4.9" fill="#333" stroke="#333" stroke-width="0.08">0</text>
<text x="462.48" y="144.60" text-anchor="middle" font-size="4.9" fill="#333" stroke="#333" stroke-width="0.08">11.8343195</text>
<text x="495.93" y="144.60" text-anchor="middle" font-size="4.9" fill="#333" stroke="#333" stroke-width="0.08">0</text>
<circle cx="197.6" cy="149.40" r="1.15" fill="#3a0a4a"/>
<text x="199.6" y="151.30" font-size="4.9" fill="#333">IID26</text>
<text x="228.32" y="151.30" text-anchor="middle" font-size="4.9" fill="#333" stroke="#333" stroke-width="0.08">0</text>
<text x="261.78" y="151.30" text-anchor="middle" font-size="4.9" fill="#333" stroke="#333" stroke-width="0.08">0</text>
<text x="295.23" y="151.30" text-anchor="middle" font-size="4.9" fill="#333" stroke="#333" stroke-width="0.08">0</text>
<text x="328.68" y="151.30" text-anchor="middle" font-size="4.9" fill="#333" stroke="#333" stroke-width="0.08">0</text>
<text x="362.12" y="151.30" text-anchor="middle" font-size="4.9" fill="#333" stroke="#333" stroke-width="0.08">0.2635046</text>
<text x="395.58" y="151.30" text-anchor="middle" font-size="4.9" fill="#333" stroke="#333" stroke-width="0.08">0</text>
<text x="429.03" y="151.30" text-anchor="middle" font-size="4.9" fill="#333" stroke="#333" stroke-width="0.08">0</text>
<text x="462.48" y="151.30" text-anchor="middle" font-size="4.9" fill="#333" stroke="#333" stroke-width="0.08">0.5376344</text>
<text x="495.93" y="151.30" text-anchor="middle" font-size="4.9" fill="#999" stroke="#999" stroke-width="0.08">NA</text>
<text x="206.4" y="218.80" text-anchor="middle" font-size="4.7" fill="#555">50</text>
<text x="206.4" y="227.35" text-anchor="middle" font-size="4.7" fill="#555">45</text>
<text x="206.4" y="235.90" text-anchor="middle" font-size="4.7" fill="#555">40</text>
<text x="206.4" y="244.45" text-anchor="middle" font-size="4.7" fill="#555">35</text>
<text x="206.4" y="253.00" text-anchor="middle" font-size="4.7" fill="#555">30</text>
<text x="206.4" y="261.55" text-anchor="middle" font-size="4.7" fill="#555">25</text>
<text x="206.4" y="270.10" text-anchor="middle" font-size="4.7" fill="#555">20</text>
<text x="206.4" y="278.65" text-anchor="middle" font-size="4.7" fill="#555">15</text>
<text x="206.4" y="287.20" text-anchor="middle" font-size="4.7" fill="#555">10</text>
<text x="206.4" y="295.75" text-anchor="middle" font-size="4.7" fill="#555">5</text>
<text x="206.4" y="304.30" text-anchor="middle" font-size="4.7" fill="#555">0</text>
<text transform="translate(196.6,251.3) rotate(-90) scale(0.775,1)" text-anchor="middle" font-size="6.2" fill="#222" stroke="#222" stroke-width="0.2">Variant allelic frequency, %</text>
<text x="194.8" y="210.2" font-size="4.75" fill="#444">SDC group</text>
<rect x="217.85" y="259.70" width="6.82" height="40.25" fill="#8a81bd" stroke="#7a71b0" stroke-width="0.5"/>
<rect x="224.92" y="299.05" width="7.32" height="0.9" fill="#c8cad2"/>
<rect x="232.24" y="299.05" width="7.32" height="0.9" fill="#dcc4dc"/>
<rect x="251.23" y="246.11" width="6.82" height="53.84" fill="#8a81bd" stroke="#7a71b0" stroke-width="0.5"/>
<rect x="258.55" y="298.25" width="6.82" height="1.70" fill="#4b5165" stroke="#3b4052" stroke-width="0.5"/>
<rect x="265.62" y="299.05" width="7.32" height="0.9" fill="#dcc4dc"/>
<rect x="284.61" y="247.70" width="6.82" height="52.25" fill="#8a81bd" stroke="#7a71b0" stroke-width="0.5"/>
<rect x="291.68" y="299.05" width="7.32" height="0.9" fill="#c8cad2"/>
<rect x="299.00" y="299.05" width="7.32" height="0.9" fill="#dcc4dc"/>
<rect x="317.99" y="221.12" width="6.82" height="78.83" fill="#8a81bd" stroke="#7a71b0" stroke-width="0.5"/>
<rect x="325.06" y="299.05" width="7.32" height="0.9" fill="#c8cad2"/>
<rect x="332.38" y="299.05" width="7.32" height="0.9" fill="#dcc4dc"/>
<rect x="351.37" y="256.25" width="6.82" height="43.70" fill="#8a81bd" stroke="#7a71b0" stroke-width="0.5"/>
<rect x="358.44" y="299.05" width="7.32" height="0.9" fill="#c8cad2"/>
<rect x="384.75" y="284.33" width="6.82" height="15.62" fill="#8a81bd" stroke="#7a71b0" stroke-width="0.5"/>
<rect x="391.82" y="299.05" width="7.32" height="0.9" fill="#c8cad2"/>
<rect x="418.13" y="222.09" width="6.82" height="77.86" fill="#8a81bd" stroke="#7a71b0" stroke-width="0.5"/>
<rect x="425.20" y="299.05" width="7.32" height="0.9" fill="#c8cad2"/>
<rect x="432.52" y="299.05" width="7.32" height="0.9" fill="#dcc4dc"/>
<rect x="451.51" y="238.51" width="6.82" height="61.44" fill="#8a81bd" stroke="#7a71b0" stroke-width="0.5"/>
<rect x="458.58" y="299.05" width="7.32" height="0.9" fill="#c8cad2"/>
<rect x="465.90" y="299.05" width="7.32" height="0.9" fill="#dcc4dc"/>
<rect x="484.89" y="286.25" width="6.82" height="13.70" fill="#8a81bd" stroke="#7a71b0" stroke-width="0.5"/>
<rect x="491.96" y="299.05" width="7.32" height="0.9" fill="#c8cad2"/>
<rect x="499.28" y="299.05" width="7.32" height="0.9" fill="#dcc4dc"/>
<line x1="194.5" y1="308.1" x2="512.65" y2="308.1" stroke="#bdbdbd" stroke-width="0.9"/>
<line x1="194.5" y1="315.2" x2="512.65" y2="315.2" stroke="#bdbdbd" stroke-width="0.9"/>
<line x1="194.5" y1="321.9" x2="512.65" y2="321.9" stroke="#bdbdbd" stroke-width="0.9"/>
<line x1="194.5" y1="328.9" x2="512.65" y2="328.9" stroke="#bdbdbd" stroke-width="0.9"/>
<line x1="194.5" y1="308.1" x2="194.5" y2="328.9" stroke="#bdbdbd" stroke-width="0.9"/>
<line x1="211.60" y1="302.1" x2="211.60" y2="328.9" stroke="#bdbdbd" stroke-width="0.9"/>
<line x1="245.05" y1="302.1" x2="245.05" y2="328.9" stroke="#bdbdbd" stroke-width="0.9"/>
<line x1="278.50" y1="302.1" x2="278.50" y2="328.9" stroke="#bdbdbd" stroke-width="0.9"/>
<line x1="311.95" y1="302.1" x2="311.95" y2="328.9" stroke="#bdbdbd" stroke-width="0.9"/>
<line x1="345.40" y1="302.1" x2="345.40" y2="328.9" stroke="#bdbdbd" stroke-width="0.9"/>
<line x1="378.85" y1="302.1" x2="378.85" y2="328.9" stroke="#bdbdbd" stroke-width="0.9"/>
<line x1="412.30" y1="302.1" x2="412.30" y2="328.9" stroke="#bdbdbd" stroke-width="0.9"/>
<line x1="445.75" y1="302.1" x2="445.75" y2="328.9" stroke="#bdbdbd" stroke-width="0.9"/>
<line x1="479.20" y1="302.1" x2="479.20" y2="328.9" stroke="#bdbdbd" stroke-width="0.9"/>
<line x1="512.65" y1="302.1" x2="512.65" y2="328.9" stroke="#bdbdbd" stroke-width="0.9"/>
<text x="228.32" y="306.40" text-anchor="middle" font-size="4.6" fill="#333">KIT</text>
<text x="261.78" y="306.40" text-anchor="middle" font-size="4.6" fill="#333">NRAS</text>
<text x="295.23" y="306.40" text-anchor="middle" font-size="4.6" fill="#333">FLT3</text>
<text x="328.68" y="306.40" text-anchor="middle" font-size="4.6" fill="#333">CEBPA</text>
<text x="362.12" y="306.40" text-anchor="middle" font-size="4.6" fill="#333">KRAS</text>
<text x="395.58" y="306.40" text-anchor="middle" font-size="4.6" fill="#333">RUNX1</text>
<text x="429.03" y="306.40" text-anchor="middle" font-size="4.6" fill="#333">WT1</text>
<text x="462.48" y="306.40" text-anchor="middle" font-size="4.6" fill="#333">CSF3R</text>
<text x="495.93" y="306.40" text-anchor="middle" font-size="4.6" fill="#333">SETD2</text>
<circle cx="197.6" cy="311.30" r="1.15" fill="#8b80c0"/>
<text x="199.6" y="313.20" font-size="4.9" fill="#333">D0</text>
<text x="228.32" y="313.20" text-anchor="middle" font-size="4.9" fill="#333" stroke="#333" stroke-width="0.08">23.74019189</text>
<text x="261.78" y="313.20" text-anchor="middle" font-size="4.9" fill="#333" stroke="#333" stroke-width="0.08">31.70302359</text>
<text x="295.23" y="313.20" text-anchor="middle" font-size="4.9" fill="#333" stroke="#333" stroke-width="0.08">30.77450906</text>
<text x="328.68" y="313.20" text-anchor="middle" font-size="4.9" fill="#333" stroke="#333" stroke-width="0.08">46.3541667</text>
<text x="362.12" y="313.20" text-anchor="middle" font-size="4.9" fill="#333" stroke="#333" stroke-width="0.08">25.7641921</text>
<text x="395.58" y="313.20" text-anchor="middle" font-size="4.9" fill="#333" stroke="#333" stroke-width="0.08">9.3033056</text>
<text x="429.03" y="313.20" text-anchor="middle" font-size="4.9" fill="#333" stroke="#333" stroke-width="0.08">45.7831325</text>
<text x="462.48" y="313.20" text-anchor="middle" font-size="4.9" fill="#333" stroke="#333" stroke-width="0.08">36.1623616</text>
<text x="495.93" y="313.20" text-anchor="middle" font-size="4.9" fill="#333" stroke="#333" stroke-width="0.08">8.1784387</text>
<circle cx="197.6" cy="318.30" r="1.15" fill="#3b4052"/>
<text x="199.6" y="320.20" font-size="4.9" fill="#333">ID26</text>
<text x="228.32" y="320.20" text-anchor="middle" font-size="4.9" fill="#333" stroke="#333" stroke-width="0.08">0.088931038</text>
<text x="261.78" y="320.20" text-anchor="middle" font-size="4.9" fill="#333" stroke="#333" stroke-width="0.08">1.140873017</text>
<text x="295.23" y="320.20" text-anchor="middle" font-size="4.9" fill="#333" stroke="#333" stroke-width="0.08">0.315955767</text>
<text x="328.68" y="320.20" text-anchor="middle" font-size="4.9" fill="#333" stroke="#333" stroke-width="0.08">0</text>
<text x="362.12" y="320.20" text-anchor="middle" font-size="4.9" fill="#333" stroke="#333" stroke-width="0.08">0</text>
<text x="395.58" y="320.20" text-anchor="middle" font-size="4.9" fill="#333" stroke="#333" stroke-width="0.08">0</text>
<text x="429.03" y="320.20" text-anchor="middle" font-size="4.9" fill="#333" stroke="#333" stroke-width="0.08">0</text>
<text x="462.48" y="320.20" text-anchor="middle" font-size="4.9" fill="#333" stroke="#333" stroke-width="0.08">0</text>
<text x="495.93" y="320.20" text-anchor="middle" font-size="4.9" fill="#333" stroke="#333" stroke-width="0.08">0</text>
<circle cx="197.6" cy="325.00" r="1.15" fill="#3a0a4a"/>
<text x="199.6" y="326.90" font-size="4.9" fill="#333">IID26</text>
<text x="228.32" y="326.90" text-anchor="middle" font-size="4.9" fill="#333" stroke="#333" stroke-width="0.08">0</text>
<text x="261.78" y="326.90" text-anchor="middle" font-size="4.9" fill="#333" stroke="#333" stroke-width="0.08">0.25974026</text>
<text x="295.23" y="326.90" text-anchor="middle" font-size="4.9" fill="#333" stroke="#333" stroke-width="0.08">0</text>
<text x="328.68" y="326.90" text-anchor="middle" font-size="4.9" fill="#333" stroke="#333" stroke-width="0.08">0</text>
<text x="362.12" y="326.90" text-anchor="middle" font-size="4.9" fill="#999" stroke="#999" stroke-width="0.08">NA</text>
<text x="395.58" y="326.90" text-anchor="middle" font-size="4.9" fill="#999" stroke="#999" stroke-width="0.08">NA</text>
<text x="429.03" y="326.90" text-anchor="middle" font-size="4.9" fill="#333" stroke="#333" stroke-width="0.08">0</text>
<text x="462.48" y="326.90" text-anchor="middle" font-size="4.9" fill="#333" stroke="#333" stroke-width="0.08">0</text>
<text x="495.93" y="326.90" text-anchor="middle" font-size="4.9" fill="#333" stroke="#333" stroke-width="0.08">0</text>
<rect x="0" y="0" width="520" height="1.1" fill="#000"/><rect x="0" y="349.9" width="520" height="1.1" fill="#000"/><rect x="0" y="0" width="1.15" height="351" fill="#000"/><rect x="518.9" y="0" width="1.1" height="351" fill="#000"/>
</svg></body></html>
